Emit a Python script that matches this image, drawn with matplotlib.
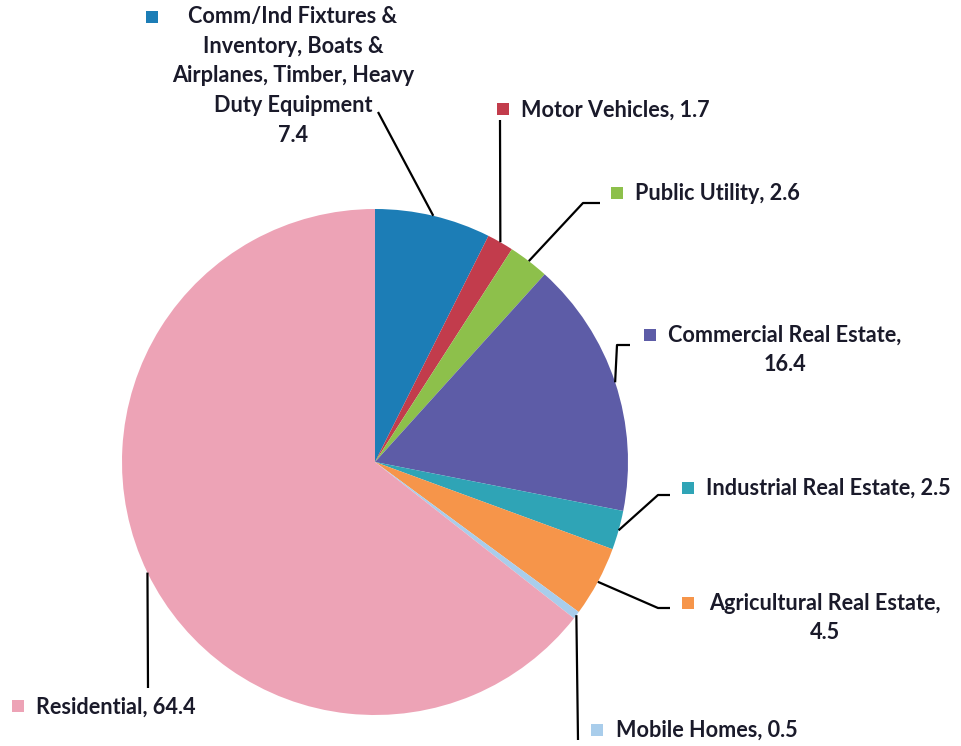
import numpy as np
import matplotlib
matplotlib.use("Agg")
import matplotlib.pyplot as plt

# slice data, clockwise from 12 o'clock
names = ["Comm/Ind Fixtures &\nInventory, Boats &\nAirplanes, Timber, Heavy\nDuty Equipment\n",
         "Motor Vehicles, ", "Public Utility, ", "Commercial Real Estate,\n",
         "Industrial Real Estate, ", "Agricultural Real Estate,\n",
         "Mobile Homes, ", "Residential, "]
values = [7.4, 1.7, 2.6, 16.4, 2.5, 4.5, 0.5, 64.4]
colors = ["#1c7db6", "#c23c4c", "#8dc04b", "#5d5ca7", "#2fa4b6",
          "#f6954a", "#a9cdeb", "#eda3b6"]

W, H = 961, 746
fig = plt.figure(figsize=(W / 100, H / 100), dpi=100)
ax = fig.add_axes([0, 0, 1, 1])

cx, cy, r = 375, H - 462, 253
ax.pie(values, colors=colors, startangle=90, counterclock=False,
       center=(cx, cy), radius=r, frame=True,
       wedgeprops=dict(linewidth=0))
ax.set_xlim(0, W)
ax.set_ylim(0, H)
ax.set_aspect("equal")
ax.axis("off")

# anchor points on the rim, at each slice's middle angle
cum = np.cumsum(values) - np.array(values) / 2
ang = np.deg2rad(90 - cum / sum(values) * 360)
rim = [(cx + r * np.cos(a), cy + r * np.sin(a)) for a in ang]

def py(y):
    return H - y

# leader line bend points (pixel coords, y from top)
leaders = [
    [(378, 112)],
    [(500, 120)],
    [(583, 203), (600, 203)],
    [(617, 345), (630, 345)],
    [(658, 495), (670, 495)],
    [(658, 608), (670, 608)],
    [(578, 740)],
    [(148, 688)],
]
# (marker x, marker y, text x, text y, ha)
layout = [
    (152, 17, 293, 76, "center"),
    (503, 109, 521, 110, "left"),
    (617, 193, 635, 193, "left"),
    (650, 335, 785, 350, "center"),
    (688, 488, 706, 488, "left"),
    (688, 603, 825, 618, "center"),
    (597, 730, 616, 730, "left"),
    (18, 706, 36, 707, "left"),
]

for i, (name, v) in enumerate(zip(names, values)):
    px, pyy = rim[i]
    xs = [px] + [p[0] for p in leaders[i]]
    ys = [pyy] + [py(p[1]) for p in leaders[i]]
    ax.plot(xs, ys, color="black", lw=1.6, solid_capstyle="butt")
    mx, my, tx, ty, ha = layout[i]
    ax.scatter([mx], [py(my)], marker="s", s=75, color=colors[i], linewidths=0)
    ax.text(tx, py(ty), f"{name}{v}", ha=ha, va="center", fontsize=15.6,
            fontweight="bold", family="Lato", color="#1a1a2a",
            linespacing=1.5)

fig.savefig("out.png", dpi=100)
